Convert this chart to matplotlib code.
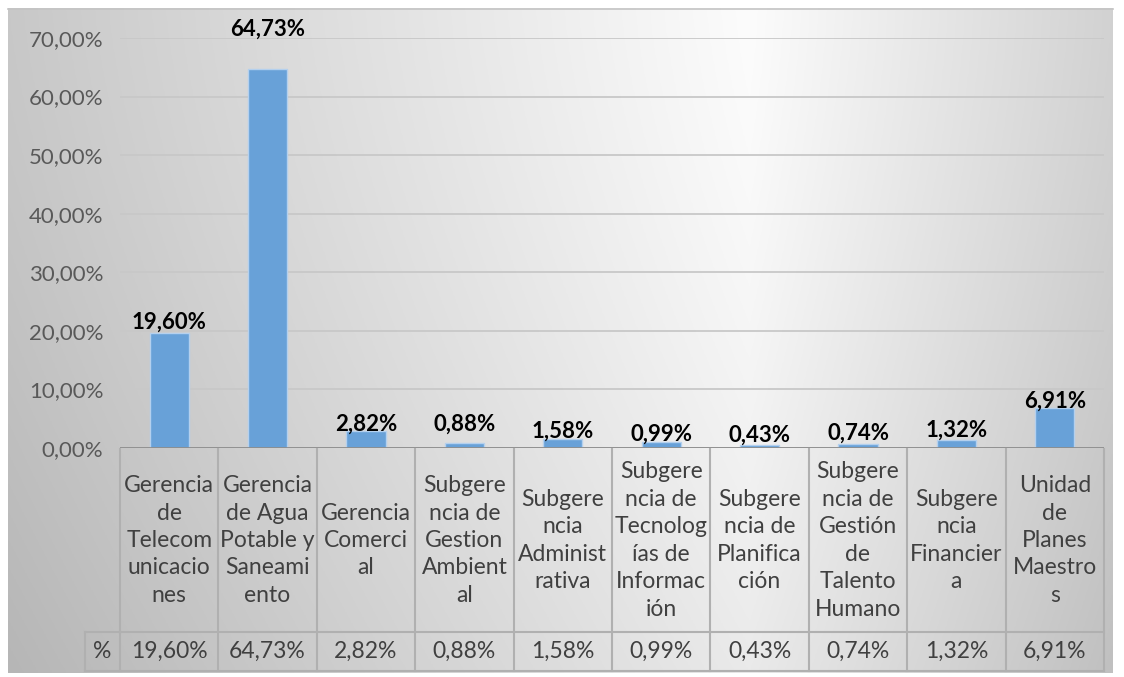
import numpy as np
import matplotlib
matplotlib.use("Agg")
import matplotlib.pyplot as plt
from matplotlib.lines import Line2D

plt.rcParams['font.family'] = ['Lato', 'DejaVu Sans']

# data
categories = [
    "Gerencia\nde\nTelecom\nunicacio\nnes",
    "Gerencia\nde Agua\nPotable y\nSaneami\nento",
    "Gerencia\nComerci\nal",
    "Subgere\nncia de\nGestion\nAmbient\nal",
    "Subgere\nncia\nAdminist\nrativa",
    "Subgere\nncia de\nTecnolog\nías de\nInformac\nión",
    "Subgere\nncia de\nPlanifica\nción",
    "Subgere\nncia de\nGestión\nde\nTalento\nHumano",
    "Subgere\nncia\nFinancier\na",
    "Unidad\nde\nPlanes\nMaestro\ns",
]
values = [19.60, 64.73, 2.82, 0.88, 1.58, 0.99, 0.43, 0.74, 1.32, 6.91]
series_name = "%"
yticks = [0, 10, 20, 30, 40, 50, 60, 70]

# label offsets above bar top (points), as placed in the original
label_off = [0, 21, -2, 6, -2, -2, 0, 0, 0, -3]


def pct(v):
    return "{:.2f}%".format(v).replace(".", ",")


W, H = 1124, 677
fig = plt.figure(figsize=(W / 100, H / 100), dpi=100)
fig.patch.set_facecolor("white")

# gradient background (chart area)
bg = fig.add_axes([8 / W, 1 - 673 / H, (1113 - 8) / W, (673 - 8) / H])
xx = np.linspace(8, 1113, 400)
yy = np.linspace(8, 673, 240)
X, Y = np.meshgrid(xx, yy)
dx = np.where(X < 750, (750 - X) / 742.0 * 52, (X - 750) / 363.0 * 42)
g = 252 - dx - (Y / 673.0) ** 1.5 * 18
g = np.clip(g, 0, 255) / 255.0
bg.imshow(np.dstack([g, g, g]), aspect="auto", extent=[0, 1, 0, 1])
bg.set_axis_off()
fig.add_artist(Line2D([8 / W, 1113 / W], [1 - 8.5 / H, 1 - 8.5 / H],
                      color="#c4c4c4", linewidth=1.2))

# plot area
x0, x1 = 120, 1104
y0, y1 = 448, 38
ax = fig.add_axes([x0 / W, 1 - y0 / H, (x1 - x0) / W, (y0 - y1) / H])
ax.patch.set_alpha(0)
ax.set_xlim(-0.5, len(values) - 0.5)
ax.set_ylim(0, 70)
ax.set_yticks(yticks)
ax.set_yticklabels([pct(t) for t in yticks], color="#595959", fontsize=16)
ax.tick_params(axis="y", length=0, pad=12)
ax.tick_params(axis="x", length=0, labelbottom=False)
for s in ax.spines.values():
    s.set_visible(False)
ax.yaxis.grid(True, color="#c8c8c8", linewidth=1.3)
ax.set_axisbelow(True)

xs = np.arange(len(values))
ax.bar(xs, values, width=0.4, color="#68a1d8", edgecolor="#b4d0ee", linewidth=1, zorder=3)
ax.axhline(0, color="#8c8c8c", linewidth=2, zorder=4)

for x, v, off in zip(xs, values, label_off):
    ax.annotate(pct(v), (x, v), xytext=(0, off), textcoords="offset points",
                ha="center", va="bottom", fontsize=16, fontweight="bold",
                color="black", zorder=5)

# data table below the axis
colw = (x1 - x0) / len(values)
row1_bot, row2_bot = 632, 671
lc = "#b0b0b0"
tc = "#404040"


def fx(px):
    return px / W


def fy(py):
    return 1 - py / H


lines = []
lines.append(((x0, x1), (row1_bot, row1_bot)))
lines.append(((85, x1), (row2_bot, row2_bot)))
lines.append(((85, x0), (row1_bot, row1_bot)))
lines.append(((85, 85), (row1_bot, row2_bot)))
for i in range(len(values) + 1):
    xb = x0 + i * colw
    lines.append(((xb, xb), (449, row2_bot)))
for (lx, ly) in lines:
    fig.add_artist(Line2D([fx(p) for p in lx], [fy(p) for p in ly],
                          color=lc, linewidth=1.5))

for i, (c, v) in enumerate(zip(categories, values)):
    cx = x0 + (i + 0.5) * colw
    fig.text(fx(cx), fy((449 + row1_bot) / 2), c, ha="center", va="center",
             fontsize=16.5, color=tc, linespacing=1.38)
    fig.text(fx(cx), fy((row1_bot + row2_bot) / 2), pct(v), ha="center",
             va="center", fontsize=16.5, color=tc)
fig.text(fx((85 + x0) / 2), fy((row1_bot + row2_bot) / 2), series_name,
         ha="center", va="center", fontsize=16.5, color=tc)

fig.savefig("out.png", dpi=100, facecolor="white")
